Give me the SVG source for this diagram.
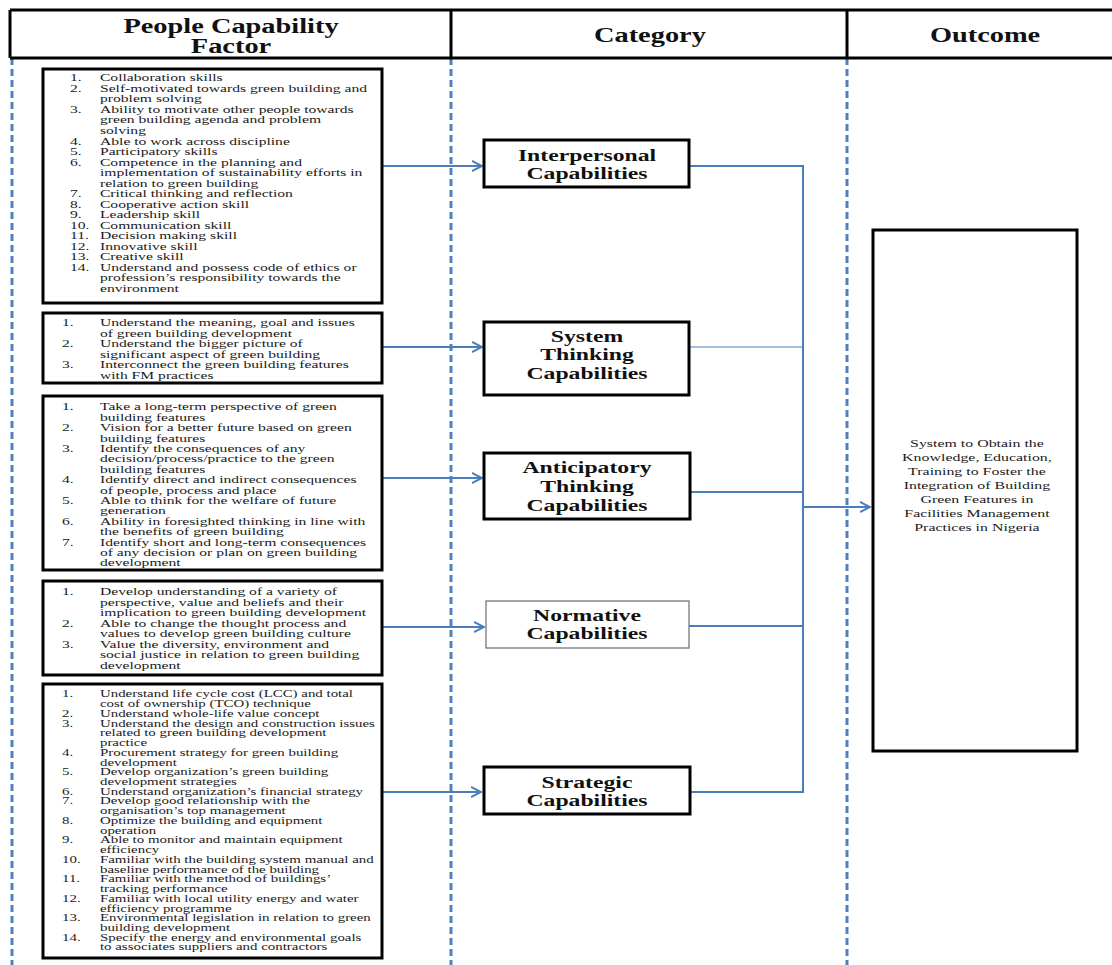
<svg xmlns="http://www.w3.org/2000/svg" width="1112" height="965" viewBox="0 0 1112 965">
<style>
.lst{font-family:"Liberation Serif","Times New Roman",serif;font-size:11px;fill:#1a1a1a}
.lst2{font-family:"Liberation Serif","Times New Roman",serif;font-size:10.5px;fill:#1a1a1a}
.hd{font-family:"Liberation Serif","Times New Roman",serif;font-size:20px;font-weight:bold;fill:#111;text-anchor:middle}
.cat{font-family:"Liberation Serif","Times New Roman",serif;font-size:16.7px;font-weight:bold;fill:#111;text-anchor:middle}
.out{font-family:"Liberation Serif","Times New Roman",serif;font-size:11.2px;fill:#1a1a1a;text-anchor:middle}
.box{fill:#fff;stroke:#000;stroke-width:3}
.dash{stroke:#4F81BD;stroke-width:3;stroke-dasharray:7 4;fill:none}
.con{stroke:#4A7EBB;stroke-width:2;fill:none}
</style>
<defs>
<marker id="arr" markerWidth="12" markerHeight="12" refX="10" refY="5" orient="auto" markerUnits="userSpaceOnUse" viewBox="0 0 12 10">
<path d="M0,0 L10,5 L0,10" fill="none" stroke="#4A7EBB" stroke-width="2"/>
</marker>
</defs>
<rect width="1112" height="965" fill="#fff"/>

<g id="lanes">
<line class="dash" x1="12" y1="58" x2="12" y2="965"/>
<line class="dash" x1="451" y1="58" x2="451" y2="965"/>
<line class="dash" x1="847" y1="58" x2="847" y2="965"/>
</g>

<g id="header">
<path d="M10,10 H1112 M10,58 H1112 M10,10 V58 M451,10 V58 M847,10 V58" stroke="#000" stroke-width="3" fill="none"/>
<g transform="scale(1.42,1)">
<text class="hd" x="162.7" y="33">People Capability</text>
<text class="hd" x="162.7" y="53.5">Factor</text>
<text class="hd" x="457.7" y="42">Category</text>
<text class="hd" x="693.7" y="42">Outcome</text>
</g>
</g>

<g id="connectors">
<line class="con" x1="382" y1="166" x2="482" y2="166" marker-end="url(#arr)"/>
<line class="con" x1="382" y1="347" x2="482" y2="347" marker-end="url(#arr)"/>
<line class="con" x1="382" y1="478" x2="482" y2="478" marker-end="url(#arr)"/>
<line class="con" x1="382" y1="627" x2="484" y2="627" marker-end="url(#arr)"/>
<line class="con" x1="382" y1="792" x2="481" y2="792" marker-end="url(#arr)"/>
<line class="con" x1="689" y1="166" x2="803" y2="166"/>
<line x1="689" y1="347" x2="803" y2="347" stroke="#4A7EBB" stroke-width="1.2"/>
<line class="con" x1="691" y1="492" x2="803" y2="492"/>
<line class="con" x1="689" y1="626" x2="803" y2="626"/>
<line class="con" x1="690" y1="792" x2="803" y2="792"/>
<line class="con" x1="803" y1="165" x2="803" y2="793"/>
<line class="con" x1="803" y1="507" x2="870" y2="507" marker-end="url(#arr)"/>
</g>

<g id="factors-interpersonal">
<rect class="box" x="43" y="69" width="339" height="234"/>
<g class="lst" transform="scale(1.42,1)">
<text x="49.3" y="81.5">1.</text><text x="70.4" y="81.5">Collaboration skills</text>
<text x="49.3" y="92">2.</text><text x="70.4" y="92">Self-motivated towards green building and</text>
<text x="70.4" y="102.5">problem solving</text>
<text x="49.3" y="113">3.</text><text x="70.4" y="113">Ability to motivate other people towards</text>
<text x="70.4" y="123.5">green building agenda and problem</text>
<text x="70.4" y="134">solving</text>
<text x="49.3" y="145">4.</text><text x="70.4" y="145">Able to work across discipline</text>
<text x="49.3" y="155.5">5.</text><text x="70.4" y="155.5">Participatory skills</text>
<text x="49.3" y="166">6.</text><text x="70.4" y="166">Competence in the planning and</text>
<text x="70.4" y="176.5">implementation of sustainability efforts in</text>
<text x="70.4" y="187">relation to green building</text>
<text x="49.3" y="197.5">7.</text><text x="70.4" y="197.5">Critical thinking and reflection</text>
<text x="49.3" y="208">8.</text><text x="70.4" y="208">Cooperative action skill</text>
<text x="49.3" y="218.5">9.</text><text x="70.4" y="218.5">Leadership skill</text>
<text x="49.3" y="229">10.</text><text x="70.4" y="229">Communication skill</text>
<text x="49.3" y="239.5">11.</text><text x="70.4" y="239.5">Decision making skill</text>
<text x="49.3" y="250">12.</text><text x="70.4" y="250">Innovative skill</text>
<text x="49.3" y="260.5">13.</text><text x="70.4" y="260.5">Creative skill</text>
<text x="49.3" y="271">14.</text><text x="70.4" y="271">Understand and possess code of ethics or</text>
<text x="70.4" y="281.5">profession’s responsibility towards the</text>
<text x="70.4" y="292">environment</text>
</g>
</g>

<g id="factors-system">
<rect class="box" x="43" y="313" width="339" height="70"/>
<g class="lst" transform="scale(1.42,1)">
<text x="43.7" y="326.5">1.</text><text x="70.4" y="326.5">Understand the meaning, goal and issues</text>
<text x="70.4" y="337">of green building development</text>
<text x="43.7" y="347.5">2.</text><text x="70.4" y="347.5">Understand the bigger picture of</text>
<text x="70.4" y="358">significant aspect of green building</text>
<text x="43.7" y="368.5">3.</text><text x="70.4" y="368.5">Interconnect the green building features</text>
<text x="70.4" y="379">with FM practices</text>
</g>
</g>

<g id="factors-anticipatory">
<rect class="box" x="43" y="396" width="339" height="174"/>
<g class="lst" transform="scale(1.42,1)">
<text x="43.7" y="410.5">1.</text><text x="70.4" y="410.5">Take a long-term perspective of green</text>
<text x="70.4" y="420.9">building features</text>
<text x="43.7" y="431.3">2.</text><text x="70.4" y="431.3">Vision for a better future based on green</text>
<text x="70.4" y="441.7">building features</text>
<text x="43.7" y="452.1">3.</text><text x="70.4" y="452.1">Identify the consequences of any</text>
<text x="70.4" y="462.5">decision/process/practice to the green</text>
<text x="70.4" y="472.9">building features</text>
<text x="43.7" y="483.3">4.</text><text x="70.4" y="483.3">Identify direct and indirect consequences</text>
<text x="70.4" y="493.7">of people, process and place</text>
<text x="43.7" y="504.1">5.</text><text x="70.4" y="504.1">Able to think for the welfare of future</text>
<text x="70.4" y="514.5">generation</text>
<text x="43.7" y="524.9">6.</text><text x="70.4" y="524.9">Ability in foresighted thinking in line with</text>
<text x="70.4" y="535.3">the benefits of green building</text>
<text x="43.7" y="545.7">7.</text><text x="70.4" y="545.7">Identify short and long-term consequences</text>
<text x="70.4" y="556.1">of any decision or plan on green building</text>
<text x="70.4" y="566.5">development</text>
</g>
</g>

<g id="factors-normative">
<rect class="box" x="43" y="581" width="339" height="94"/>
<g class="lst" transform="scale(1.42,1)">
<text x="43.7" y="595.5">1.</text><text x="70.4" y="595.5">Develop understanding of a variety of</text>
<text x="70.4" y="606">perspective, value and beliefs and their</text>
<text x="70.4" y="616.5">implication to green building development</text>
<text x="43.7" y="627">2.</text><text x="70.4" y="627">Able to change the thought process and</text>
<text x="70.4" y="637.5">values to develop green building culture</text>
<text x="43.7" y="648">3.</text><text x="70.4" y="648">Value the diversity, environment and</text>
<text x="70.4" y="658.5">social justice in relation to green building</text>
<text x="70.4" y="669">development</text>
</g>
</g>

<g id="factors-strategic">
<rect class="box" x="43" y="684" width="339" height="274"/>
<g class="lst2" transform="scale(1.42,1)">
<text x="43.7" y="697.5">1.</text><text x="70.4" y="697.5">Understand life cycle cost (LCC) and total</text>
<text x="70.4" y="707.2">cost of ownership (TCO) technique</text>
<text x="43.7" y="717">2.</text><text x="70.4" y="717">Understand whole-life value concept</text>
<text x="43.7" y="726.7">3.</text><text x="70.4" y="726.7">Understand the design and construction issues</text>
<text x="70.4" y="736.4">related to green building development</text>
<text x="70.4" y="746.2">practice</text>
<text x="43.7" y="755.9">4.</text><text x="70.4" y="755.9">Procurement strategy for green building</text>
<text x="70.4" y="765.6">development</text>
<text x="43.7" y="775.3">5.</text><text x="70.4" y="775.3">Develop organization’s green building</text>
<text x="70.4" y="785.1">development strategies</text>
<text x="43.7" y="794.8">6.</text><text x="70.4" y="794.8">Understand organization’s financial strategy</text>
<text x="43.7" y="804.5">7.</text><text x="70.4" y="804.5">Develop good relationship with the</text>
<text x="70.4" y="814.3">organisation’s top management</text>
<text x="43.7" y="824">8.</text><text x="70.4" y="824">Optimize the building and equipment</text>
<text x="70.4" y="833.7">operation</text>
<text x="43.7" y="843.5">9.</text><text x="70.4" y="843.5">Able to monitor and maintain equipment</text>
<text x="70.4" y="853.2">efficiency</text>
<text x="43.7" y="862.9">10.</text><text x="70.4" y="862.9">Familiar with the building system manual and</text>
<text x="70.4" y="872.6">baseline performance of the building</text>
<text x="43.7" y="882.4">11.</text><text x="70.4" y="882.4">Familiar with the method of buildings’</text>
<text x="70.4" y="892.1">tracking performance</text>
<text x="43.7" y="901.8">12.</text><text x="70.4" y="901.8">Familiar with local utility energy and water</text>
<text x="70.4" y="911.6">efficiency programme</text>
<text x="43.7" y="921.3">13.</text><text x="70.4" y="921.3">Environmental legislation in relation to green</text>
<text x="70.4" y="931">building development</text>
<text x="43.7" y="940.8">14.</text><text x="70.4" y="940.8">Specify the energy and environmental goals</text>
<text x="70.4" y="950.5">to associates suppliers  and contractors</text>
</g>
</g>

<g id="cat-interpersonal">
<rect class="box" x="484" y="140" width="205" height="47"/>
<g class="cat" transform="scale(1.42,1)">
<text x="413.4" y="161">Interpersonal</text>
<text x="413.4" y="179">Capabilities</text>
</g>
</g>

<g id="cat-system">
<rect class="box" x="484" y="322" width="205" height="73"/>
<g class="cat" transform="scale(1.42,1)">
<text x="413.4" y="342">System</text>
<text x="413.4" y="360">Thinking</text>
<text x="413.4" y="379">Capabilities</text>
</g>
</g>

<g id="cat-anticipatory">
<rect class="box" x="484" y="453" width="206" height="66"/>
<g class="cat" transform="scale(1.42,1)">
<text x="413.4" y="473">Anticipatory</text>
<text x="413.4" y="492">Thinking</text>
<text x="413.4" y="511">Capabilities</text>
</g>
</g>

<g id="cat-normative">
<rect x="486" y="601" width="203" height="47" fill="#fff" stroke="#777" stroke-width="1.3"/>
<g class="cat" transform="scale(1.42,1)">
<text x="413.4" y="621">Normative</text>
<text x="413.4" y="639">Capabilities</text>
</g>
</g>

<g id="cat-strategic">
<rect class="box" x="484" y="767" width="206" height="47"/>
<g class="cat" transform="scale(1.42,1)">
<text x="413.4" y="788">Strategic</text>
<text x="413.4" y="806">Capabilities</text>
</g>
</g>

<g id="outcome">
<rect class="box" x="873" y="230" width="204" height="521"/>
<g class="out" transform="scale(1.42,1)">
<text x="688" y="447">System to Obtain the</text>
<text x="688" y="461.5">Knowledge, Education,</text>
<text x="688" y="475.5">Training to Foster the</text>
<text x="688" y="489.5">Integration of Building</text>
<text x="688" y="503.5">Green Features in</text>
<text x="688" y="517.5">Facilities Management</text>
<text x="688" y="531">Practices in Nigeria</text>
</g>
</g>
</svg>
